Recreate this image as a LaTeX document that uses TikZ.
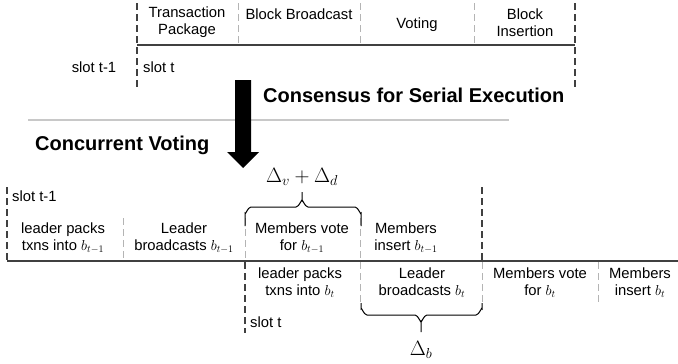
\documentclass[tikz,border=0pt]{standalone}
\usepackage{fontspec}
\setmainfont{Liberation Sans}
\definecolor{darkline}{HTML}{404040}
\definecolor{lightline}{HTML}{B4B4B4}
\definecolor{sepgray}{HTML}{C8C8C8}
\tikzset{
  lbl/.style={inner sep=0pt, align=center, font=\fontsize{14.8}{17}\selectfont},
  titletext/.style={inner sep=0pt, font=\fontsize{20}{24}\selectfont\bfseries},
  mathlbl/.style={inner sep=0pt, font=\fontsize{19.5}{22}\selectfont},
  darkdash/.style={draw=darkline, line width=1.2pt, dash pattern=on 7pt off 4pt},
  lightdash/.style={draw=lightline, line width=1pt, dash pattern=on 7pt off 4pt},
  axisline/.style={draw=darkline, line width=1.3pt},
  bracepath/.style={draw=black, line width=1pt},
}
\begin{document}
\begin{tikzpicture}[x=1pt,y=-1pt]
\useasboundingbox (0,0) rectangle (678,364);

% ---------- top: serial execution ----------
\draw[axisline] (137,45) -- (575,45);
\draw[darkdash] (137,3) -- (137,87);
\draw[darkdash] (575,3) -- (575,87);
\draw[lightdash] (238,3) -- (238,44);
\draw[lightdash] (360,3) -- (360,44);
\draw[lightdash] (474,3) -- (474,44);

\node[lbl] (tp) at (187,22.5) {Transaction\\Package};
\node[lbl] (bb) at (299,14) {Block Broadcast};
\node[lbl] (vo) at (417,25) {Voting};
\node[lbl] (bi) at (525,22.5) {Block\\Insertion};
\node[lbl] (s1top) at (94,67) {slot t-1};
\node[lbl,anchor=west] (s2top) at (143,67) {slot t};

% ---------- middle ----------
\draw[draw=sepgray, line width=1.6pt] (28,120) -- (509,120);
\fill[black] (235,80) -- (251,80) -- (251,152) -- (259,152) -- (243,168)
  -- (227,152) -- (235,152) -- cycle;
\node[titletext,anchor=west] (cse) at (263,95) {Consensus for Serial Execution};
\node[titletext,anchor=west] (cv) at (35,145) {Concurrent Voting};

% ---------- bottom: concurrent voting ----------
\draw[axisline] (7,261) -- (678,261);
\draw[darkdash] (7,187) -- (7,261);
\draw[darkdash] (482,187) -- (482,261);
\draw[darkdash] (245,262) -- (245,333);
\draw[lightdash] (123,218) -- (123,260);
\draw[lightdash] (245,218) -- (245,260);
\draw[lightdash] (360,218) -- (360,260);
\draw[lightdash] (360,262) -- (360,304);
\draw[lightdash] (482,262) -- (482,304);
\draw[lightdash] (598,262) -- (598,304);

\node[lbl,anchor=west] (s1bot) at (12,196) {slot t-1};
\node[lbl,anchor=west] (s2bot) at (250,322) {slot t};

\node[lbl] (lp1) at (63,238) {leader packs\\txns into $b_{t-1}$};
\node[lbl] (lb1) at (184,238) {Leader\\broadcasts $b_{t-1}$};
\node[lbl] (mv1) at (302,238) {Members vote\\for $b_{t-1}$};
\node[lbl] (mi1) at (406,238) {Members\\insert $b_{t-1}$};

\node[lbl] (lp2) at (300,283) {leader packs\\txns into $b_t$};
\node[lbl] (lb2) at (422,283) {Leader\\broadcasts $b_t$};
\node[lbl] (mv2) at (540,283) {Members vote\\for $b_t$};
\node[lbl] (mi2) at (640,283) {Members\\insert $b_t$};

% braces
\draw[bracepath] (245,226) -- (245,213) to[out=-90,in=180] (251,207) -- (296,207)
  to[out=0,in=90] (302,201) -- (302,192);
\draw[bracepath] (302,201) to[out=90,in=180] (308,207) -- (355,207)
  to[out=0,in=-90] (361,213) -- (361,226);
\node[mathlbl] (dvd) at (302,177) {$\Delta_v+\Delta_d$};

\draw[bracepath] (361,303) -- (361,309) to[out=90,in=180] (367,315) -- (415,315)
  to[out=0,in=-90] (421,321) -- (421,332);
\draw[bracepath] (421,321) to[out=-90,in=180] (427,315) -- (476,315)
  to[out=0,in=90] (482,309) -- (482,303);
\node[mathlbl] (db) at (421,350) {$\Delta_b$};
\end{tikzpicture}
\end{document}
